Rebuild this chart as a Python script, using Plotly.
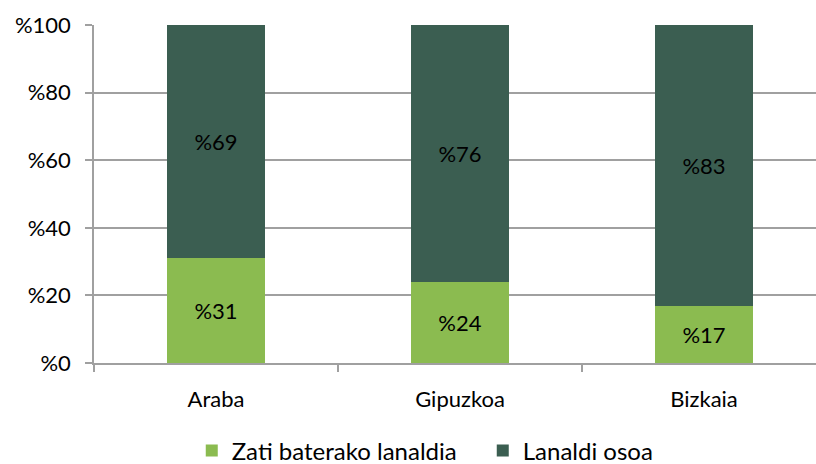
import plotly.graph_objects as go

categories = ["Araba", "Gipuzkoa", "Bizkaia"]
partial = [31, 24, 17]
full = [69, 76, 83]
series_names = ["Zati baterako lanaldia", "Lanaldi osoa"]
y_ticks = [0, 20, 40, 60, 80, 100]
y_tick_labels = ["%0", "%20", "%40", "%60", "%80", "%100"]

FONT = "Lato"
fig = go.Figure()
fig.add_trace(go.Bar(x=categories, y=partial, name=series_names[0],
                     marker=dict(color="#8BBB50", line=dict(width=0)),
                     text=[f"%{v}" for v in partial], textposition="inside",
                     insidetextanchor="middle", textangle=0,
                     textfont=dict(color="black", size=22, family=FONT)))
fig.add_trace(go.Bar(x=categories, y=full, name=series_names[1],
                     marker=dict(color="#3B5E51", line=dict(width=0)),
                     text=[f"%{v}" for v in full], textposition="inside",
                     insidetextanchor="middle", textangle=0,
                     textfont=dict(color="black", size=22, family=FONT)))

fig.update_layout(
    barmode="stack", bargap=0.6,
    width=816, height=464,
    margin=dict(l=94, r=0, t=25, b=101, autoexpand=False),
    paper_bgcolor="white", plot_bgcolor="white",
    font=dict(family=FONT, size=22, color="black"),
    showlegend=True,
    legend=dict(orientation="h", xref="paper", yref="paper",
                x=(0.235 * 816 - 94) / 722, xanchor="left",
                y=-(451 - 363) / 338, yanchor="middle",
                font=dict(size=24, family=FONT), traceorder="normal",
                itemwidth=30, entrywidth=246, entrywidthmode="pixels"),
)
fig.update_xaxes(type="category", range=[-0.5, 2.459], showline=True,
                 linecolor="#A0A0A0", linewidth=1.5, ticks="outside",
                 tickson="boundaries", ticklen=7, tickcolor="#A0A0A0",
                 tickwidth=1.5, showgrid=False, automargin=False,
                 ticklabelstandoff=16,
                 tickfont=dict(size=22, family=FONT))
fig.update_yaxes(range=[0, 100], tickmode="array", tickvals=y_ticks,
                 ticktext=y_tick_labels, automargin=False,
                 showline=True, linecolor="#A0A0A0", linewidth=1.5,
                 ticks="outside", ticklen=7, tickcolor="#A0A0A0", tickwidth=1.5,
                 ticklabelstandoff=10,
                 showgrid=True, gridcolor="#A0A0A0", gridwidth=1.5,
                 zeroline=False, tickfont=dict(size=22, family=FONT))

fig.write_html("out.html", config={"displayModeBar": False},
               post_script="document.body.style.margin='0';document.body.style.overflow='hidden';")
